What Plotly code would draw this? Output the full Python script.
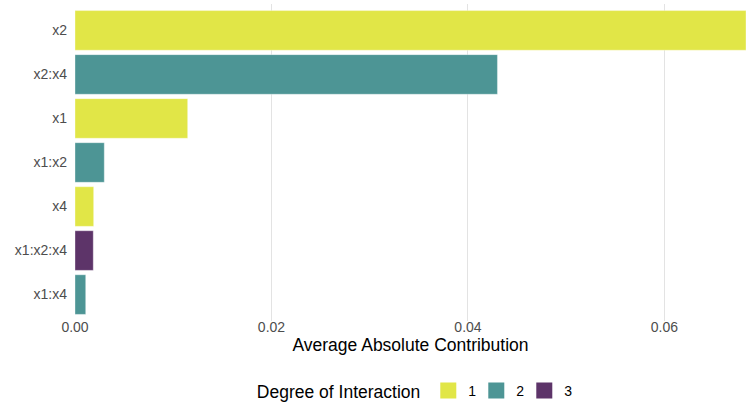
import plotly.graph_objects as go

terms = ["x2", "x2:x4", "x1", "x1:x2", "x4", "x1:x2:x4", "x1:x4"]
values = [0.0683, 0.0430, 0.01147, 0.00298, 0.0019, 0.00186, 0.00109]
degree = [1, 2, 1, 2, 1, 3, 2]
degree_levels = [1, 2, 3]
colors = {1: "#E1E647", 2: "#4D9595", 3: "#5D3469"}
x_ticks = [0.0, 0.02, 0.04, 0.06]
x_tick_labels = ["0.00", "0.02", "0.04", "0.06"]

fig = go.Figure()
for d in degree_levels:
    ys = [t for t, g in zip(terms, degree) if g == d]
    xs = [v for v, g in zip(values, degree) if g == d]
    fig.add_trace(go.Bar(
        x=xs, y=ys, orientation="h", width=0.9,
        marker=dict(color=colors[d], line=dict(color="rgba(255,255,255,0.6)", width=0.6)),
        showlegend=False, hoverinfo="x+y",
    ))
    fig.add_trace(go.Scatter(
        x=[None], y=[None], mode="markers", name=str(d),
        marker=dict(symbol="square", size=16, color=colors[d]),
        showlegend=True,
    ))

fig.update_layout(
    width=746, height=404,
    margin=dict(l=75, r=0, t=4, b=83, autoexpand=False),
    plot_bgcolor="white", paper_bgcolor="white",
    font=dict(family="Liberation Sans, Arial, sans-serif", color="#4D4D4D", size=14),
    bargap=0.1,
    xaxis=dict(
        range=[0, 0.0683], tickvals=x_ticks, ticktext=x_tick_labels,
        showgrid=True, gridcolor="#E3E3E3", gridwidth=1, zeroline=False,
        showline=False, ticks="", automargin=False,
        tickfont=dict(size=14, color="#4D4D4D"), ticklabelstandoff=-4,
        title=dict(text="Average Absolute Contribution", font=dict(size=17.5, color="black"), standoff=0),
    ),
    yaxis=dict(
        type="category", categoryorder="array", categoryarray=terms,
        range=[6.6, -0.6], showgrid=False, zeroline=False, showline=False, ticks="",
        automargin=False,
        tickfont=dict(size=14, color="#4D4D4D"), ticklabelstandoff=7,
    ),
    legend=dict(
        orientation="h", x=0.505, xanchor="center", y=-0.222, yanchor="middle",
        title=dict(text="Degree of Interaction", font=dict(size=17.5, color="black"), side="left"),
        font=dict(size=14, color="black"),
        entrywidth=3,
    ),
)

fig.write_html("out.html", config={"displayModeBar": False},
               post_script="document.body.style.margin='0';")
